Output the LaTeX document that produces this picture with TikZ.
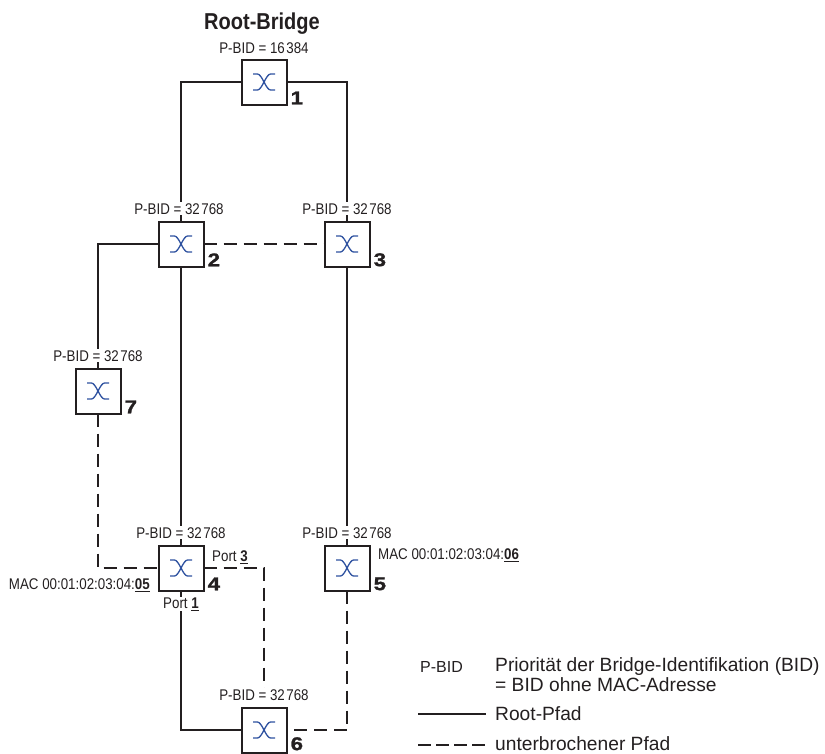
\documentclass[tikz,border=0pt]{standalone}
\usepackage{fontspec}
\setmainfont{Liberation Sans}
\newfontfamily\narrowfont[FakeStretch=0.86]{Liberation Sans}
\newfontfamily\titlefont[FakeStretch=0.87]{Liberation Sans}
\newfontfamily\widefont[FakeStretch=1.2,FakeBold=1.5]{Liberation Sans}
\usetikzlibrary{positioning}
\definecolor{ink}{HTML}{231F20}
\definecolor{iconblue}{HTML}{2F52A0}
\newcommand{\pbid}[2]{P-BID = #1\kern1.5pt #2}
\newcommand{\macid}[1]{MAC 00:01:02:03:04:\underline{\textbf{#1}}}
\tikzset{switchbox/.style={draw=ink,line width=2pt,fill=white,minimum size=45pt,inner sep=0pt,outer sep=0pt,path picture={\draw[iconblue,line width=1.3pt,shift={(path picture bounding box.center)}] (-11,8) -- (-6.5,8) .. controls (-2,8) and (2,-8) .. (6.5,-8) -- (11,-8) (-11,-8) -- (-6.5,-8) .. controls (-2,-8) and (2,8) .. (6.5,8) -- (11,8);}},swnum/.style={inner sep=0pt,text=ink,font=\widefont\fontsize{18.5}{18.5}\selectfont\bfseries},bidlabel/.style={fill=white,inner sep=1pt,text=ink,font=\narrowfont\fontsize{15.5}{16}\selectfont},maclabel/.style={inner sep=0pt,text=ink,font=\narrowfont\fontsize{15.5}{16}\selectfont},legendtext/.style={inner sep=0pt,anchor=base west,text=ink,font=\fontsize{19.2}{20}\selectfont},rootpath/.style={draw=ink,line width=2pt},brokenpath/.style={draw=ink,line width=2pt,dash pattern=on 13pt off 7pt},legendsolid/.style={draw=ink,line width=1.3pt},legendbroken/.style={draw=ink,line width=1.3pt,dash pattern=on 13pt off 5pt}}
\begin{document}
\begin{tikzpicture}[x=1pt,y=1pt]
\useasboundingbox (0,0) rectangle (825,-753);
\node[switchbox] (sw1) at (264,-82) {};
\node[switchbox,below=117pt of sw1,xshift=-83pt] (sw2) {};
\node[switchbox,right=121pt of sw2] (sw3) {};
\node[switchbox,below=102pt of sw2,xshift=-83pt] (sw7) {};
\node[switchbox,below=279pt of sw2] (sw4) {};
\node[switchbox,right=121pt of sw4] (sw5) {};
\node[switchbox,below=117pt of sw4,xshift=83pt] (sw6) {};
% paths
\draw[rootpath] (sw1.west) -| (sw2.north);
\draw[rootpath] (sw1.east) -| (sw3.north);
\draw[brokenpath] (sw2.east) -- (sw3.west);
\draw[rootpath] (sw2.west) -| (sw7.north);
\draw[rootpath] (sw2.south) -- (sw4.north);
\draw[rootpath] (sw3.south) -- (sw5.north);
\draw[brokenpath] (sw7.south) |- (sw4.west);
\draw[brokenpath] (sw4.east) -| (sw6.north);
\draw[rootpath] (sw4.south) |- (sw6.west);
\draw[brokenpath] (sw5.south) |- (sw6.east);
% labels
\node[inner sep=0pt,text=ink,font=\titlefont\fontsize{23}{24}\selectfont\bfseries] (rootbridge) at (262,-24) {Root-Bridge};
\node[bidlabel,above=5pt of sw1] (bid1) {\pbid{16}{384}};
\node[bidlabel,above=6pt of sw2,xshift=-2pt] (bid2) {\pbid{32}{768}};
\node[bidlabel,above=6pt of sw3] (bid3) {\pbid{32}{768}};
\node[bidlabel,above=6pt of sw7] (bid7) {\pbid{32}{768}};
\node[bidlabel,above=6pt of sw4] (bid4) {\pbid{32}{768}};
\node[bidlabel,above=6pt of sw5] (bid5) {\pbid{32}{768}};
\node[bidlabel,above=6pt of sw6] (bid6) {\pbid{32}{768}};
\node[swnum,above right=0pt and 4pt of sw1.south east] (num1) {1};
\node[swnum,above right=0pt and 4pt of sw2.south east] (num2) {2};
\node[swnum,above right=0pt and 4pt of sw3.south east] (num3) {3};
\node[swnum,above right=0pt and 4pt of sw7.south east] (num7) {7};
\node[swnum,above right=0pt and 4pt of sw4.south east] (num4) {4};
\node[swnum,above right=0pt and 4pt of sw5.south east] (num5) {5};
\node[swnum,above right=2pt and 4pt of sw6.south east] (num6) {6};
\node[maclabel,anchor=east] (mac4) at (150,-585) {\macid{05}};
\node[maclabel,anchor=west] (mac5) at (378,-555) {\macid{06}};
\node[maclabel,anchor=west] (port3) at (212,-557) {Port \underline{\textbf{3}}};
\node[bidlabel,below=6pt of sw4] (port1) {Port \underline{\textbf{1}}};
% legend
\node[inner sep=0pt,anchor=base west,text=ink,font=\fontsize{16}{17}\selectfont] (legbid) at (420,-672.5) {P-BID};
\node[legendtext] (legprio) at (495,-671.5) {Priorität der Bridge-Identifikation (BID)};
\node[legendtext] (legohne) at (495,-691) {= BID ohne MAC-Adresse};
\node[legendtext] (legroot) at (495,-720.5) {Root-Pfad};
\node[legendtext] (legbroken) at (495,-750) {unterbrochener Pfad};
\coordinate (solidstart) at (418,-714);
\coordinate (brokenstart) at (418,-745);
\draw[legendsolid] (solidstart) -- ++(68,0) coordinate (solidend);
\draw[legendbroken] (brokenstart) -- ++(68,0) coordinate (brokenend);
\end{tikzpicture}
\end{document}
